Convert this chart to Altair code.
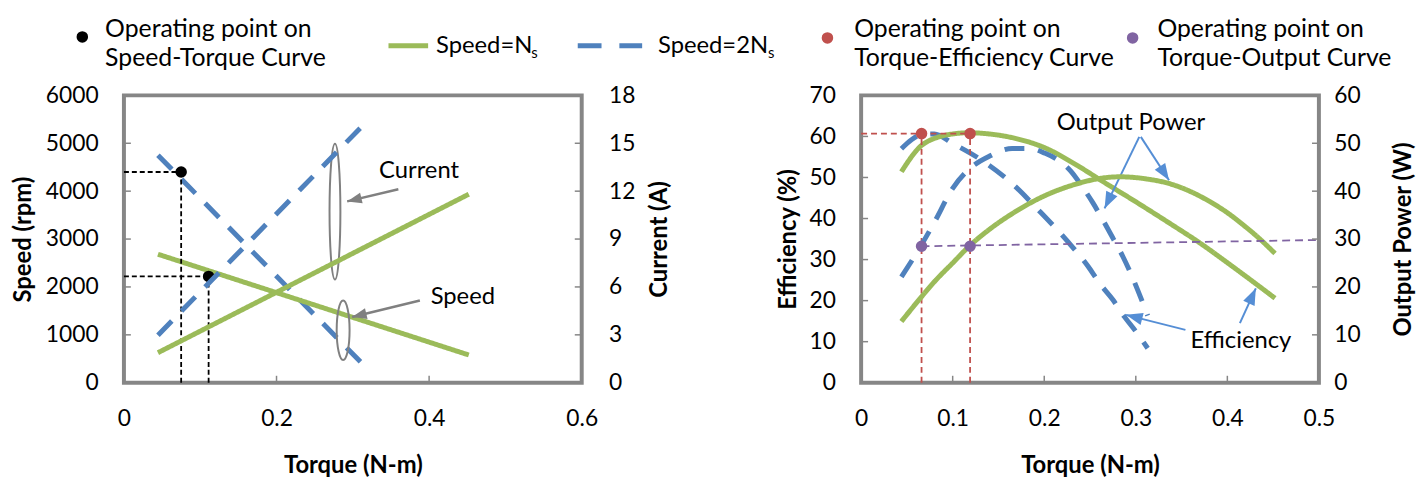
import math
import altair as alt
import pandas as pd

# ---------------- data ----------------
# Left panel: speed / current characteristics (straight lines)
line_torque_ns = [0.0446, 0.452]
speed_ns = [2683, 579]
current_ns = [1.88, 11.81]
line_torque_2ns = [0.0446, 0.314]
speed_2ns = [4752, 372]
current_2ns = [2.98, 16.16]

op_speed_torque = [0.075, 0.111]
op_speed_value = [4400, 2220]

# Right panel: efficiency and output power
eff_ns_torque = [0.044, 0.064, 0.085, 0.100, 0.118, 0.140, 0.165, 0.201, 0.237, 0.262, 0.302, 0.338, 0.367, 0.410, 0.452]
eff_ns = [51.4, 57.4, 59.9, 60.6, 60.9, 60.6, 59.7, 57.2, 52.8, 49.3, 43.8, 38.7, 34.5, 27.6, 20.6]
eff_2ns_torque = [0.044, 0.055, 0.067, 0.080, 0.100, 0.129, 0.165, 0.194, 0.226, 0.248, 0.2605, 0.275, 0.2875, 0.300, 0.313]
eff_2ns = [57.0, 59.2, 60.5, 60.6, 58.3, 54.6, 48.5, 42.0, 34.3, 28.3, 24.2, 20.2, 16.1, 12.5, 8.4]
pow_ns_torque = [0.044, 0.064, 0.082, 0.100, 0.118, 0.140, 0.165, 0.200, 0.237, 0.262, 0.283, 0.310, 0.338, 0.360, 0.381, 0.400, 0.417, 0.435, 0.452]
pow_ns = [12.8, 17.5, 21.5, 25.0, 28.5, 32.0, 35.3, 39.0, 41.6, 42.7, 43.0, 42.6, 41.5, 39.9, 37.8, 35.5, 33.0, 30.1, 27.0]
pow_2ns_torque = [0.044, 0.065, 0.080, 0.100, 0.118, 0.140, 0.165, 0.185, 0.201, 0.215, 0.229, 0.2406, 0.253, 0.264, 0.275, 0.286, 0.295, 0.302, 0.313]
pow_2ns = [22.1, 28.5, 33.5, 40.6, 44.6, 47.3, 48.9, 48.9, 47.9, 46.5, 44.2, 41.2, 37.6, 34.0, 30.2, 26.3, 22.6, 19.4, 14.0]

op_eff_torque = [0.066, 0.119]
op_eff_value = [60.7, 60.7]
op_out_torque = [0.066, 0.119]
op_out_value = [28.5, 28.5]
out_ref_torque = [0.066, 0.5]
out_ref_value = [28.5, 29.8]

# axis tick values
speed_ticks = [0, 1000, 2000, 3000, 4000, 5000, 6000]
current_ticks = [0, 3, 6, 9, 12, 15, 18]
torque_ticks_left = [0, 0.2, 0.4, 0.6]
eff_ticks = [0, 10, 20, 30, 40, 50, 60, 70]
power_ticks = [0, 10, 20, 30, 40, 50, 60]
torque_ticks_right = [0, 0.1, 0.2, 0.3, 0.4, 0.5]

SERIES = ["Speed=Ns", "Speed=2Ns"]

# ---------------- style ----------------
W, H = 462, 290
FONT = "Lato"
GREEN = "#9BBB59"
BLUE = "#4F81BD"
RED = "#C0504D"
PURPLE = "#8064A2"
FRAME = "#868686"
GREY = "#808080"
ARROW_BLUE = "#558ED5"
HEAD = "M0,0L-0.45,1.2L0.45,1.2Z"

TL, SP, CU = [0, 0.6], [0, 6000], [0, 18]
TR, EF, PW = [0, 0.5], [0, 70], [0, 60]


def scale(dom):
    return alt.Scale(domain=dom, nice=False, zero=False)


def axis(**kw):
    base = dict(domain=False, ticks=False, tickSize=0, grid=False,
                labelFont=FONT, labelFontSize=23, labelColor="black",
                labelOverlap=False, labelFlush=False,
                titleFont=FONT, titleFontSize=24, titleFontWeight="bold",
                titleColor="black", titleBaseline="middle")
    base.update(kw)
    return alt.Axis(**base)


class Panel:
    def __init__(self, xdom, ydom, xaxis, yaxis):
        self.xdom, self.ydom, self.xaxis, self.yaxis = xdom, ydom, xaxis, yaxis

    def X(self, field):
        return alt.X(field, type="quantitative", scale=scale(self.xdom), axis=self.xaxis)

    def Y(self, field):
        return alt.Y(field, type="quantitative", scale=scale(self.ydom), axis=self.yaxis)

    def DX(self, v):
        return alt.X(datum=v, type="quantitative", scale=scale(self.xdom), axis=self.xaxis)

    def DY(self, v):
        return alt.Y(datum=v, type="quantitative", scale=scale(self.ydom), axis=self.yaxis)


def long_df(pairs):
    rows = []
    for name, xs, ys in pairs:
        for a, b in zip(xs, ys):
            rows.append({"torque": a, "value": b, "series": name})
    return pd.DataFrame(rows)


def one():
    return alt.Chart(alt.Data(values=[{}]))


def curves(p, df, interp="linear"):
    return alt.Chart(df).mark_line(strokeWidth=5, interpolate=interp).encode(
        x=p.X("torque"),
        y=p.Y("value"),
        color=alt.Color("series:N", scale=alt.Scale(domain=SERIES, range=[GREEN, BLUE]), legend=None),
        strokeDash=alt.StrokeDash("series:N", scale=alt.Scale(domain=SERIES, range=[[1, 0], [20, 14]]), legend=None),
        order=alt.Order("torque:Q"),
    )


def guides(p, rows, color, dash):
    df = pd.DataFrame(rows, columns=["x1", "x2", "y1", "y2"])
    return alt.Chart(df).mark_rule(color=color, strokeWidth=1.8, strokeDash=dash).encode(
        x=p.X("x1"), x2="x2:Q", y=p.Y("y1"), y2="y2:Q")


def points(p, ts, vs, color):
    df = pd.DataFrame({"t": ts, "v": vs})
    return alt.Chart(df).mark_point(filled=True, shape="circle", size=135, color=color, opacity=1).encode(
        x=p.X("t"), y=p.Y("v"))


def ticks_y(p, vals, side):
    df = pd.DataFrame({"v": vals[1:-1]})
    xa, xb = (0, 7) if side == "left" else (W - 7, W)
    return alt.Chart(df).mark_rule(color=FRAME, strokeWidth=1.5).encode(
        y=p.Y("v"), x=alt.value(xa), x2=alt.value(xb))


def ticks_x(p, vals):
    df = pd.DataFrame({"v": vals[1:-1]})
    return alt.Chart(df).mark_rule(color=FRAME, strokeWidth=1.5).encode(
        x=p.X("v"), y=alt.value(H - 7), y2=alt.value(H))


def note(p, txt, t, v, size=24):
    return one().mark_text(text=txt, font=FONT, fontSize=size, color="black", align="center",
                           baseline="middle").encode(x=p.DX(t), y=p.DY(v))


def arrow(p, t1, v1, t2, v2, color, width, head):
    px = (t2 - t1) / (p.xdom[1] - p.xdom[0]) * W
    py = -(v2 - v1) / (p.ydom[1] - p.ydom[0]) * H
    ang = math.degrees(math.atan2(px, -py)) % 360
    shaft = one().mark_rule(color=color, strokeWidth=width).encode(
        x=p.DX(t1), y=p.DY(v1), x2=alt.X2(datum=t2), y2=alt.Y2(datum=v2))
    tip = one().mark_point(shape=HEAD, filled=True, size=head, angle=ang, color=color, opacity=1).encode(
        x=p.DX(t2), y=p.DY(v2))
    return [shaft, tip]


def ellipse(p, t, v, h_px, ratio):
    shape = f"M0,-1A{ratio},1,0,1,1,0,1A{ratio},1,0,1,1,0,-1Z"
    return one().mark_point(shape=shape, size=h_px * h_px, filled=False, stroke=GREY,
                            strokeWidth=2, opacity=1).encode(x=p.DX(t), y=p.DY(v))


def vtext(x, y, txt, size=25):
    return one().mark_text(text=txt, font=FONT, fontSize=size, color="black", align="left",
                           baseline="middle").encode(x=alt.value(x), y=alt.value(y))


def vdot(x, y, color):
    return one().mark_point(filled=True, shape="circle", size=135, color=color, opacity=1).encode(
        x=alt.value(x), y=alt.value(y))


def vline(x1, x2, y, color, dash=None):
    kw = dict(color=color, strokeWidth=5)
    if dash:
        kw["strokeDash"] = dash
    return one().mark_rule(**kw).encode(x=alt.value(x1), x2=alt.value(x2), y=alt.value(y))


# ---------------- left panel ----------------
ax_torque_l = axis(title="Torque (N-m)", orient="bottom", values=torque_ticks_left, format=".1~f",
                   labelPadding=25, titleX=W / 2, titleY=84)
ax_speed = axis(title="Speed (rpm)", orient="left", values=speed_ticks, format="d",
                labelPadding=26, titleX=-101, titleY=H / 2, titleAngle=270)
ax_current = axis(title="Current (A)", orient="right", values=current_ticks, format="d",
                  labelPadding=27, titleX=79, titleY=H / 2, titleAngle=270)

P_speed = Panel(TL, SP, ax_torque_l, ax_speed)
P_curr = Panel(TL, CU, ax_torque_l, ax_current)

df_speed = long_df([("Speed=2Ns", line_torque_2ns, speed_2ns), ("Speed=Ns", line_torque_ns, speed_ns)])
df_current = long_df([("Speed=2Ns", line_torque_2ns, current_2ns), ("Speed=Ns", line_torque_ns, current_ns)])

black_guides = []
for t, v in zip(op_speed_torque, op_speed_value):
    black_guides.append((TL[0], t, v, v))
    black_guides.append((t, t, SP[0], v))

legend = [
    vdot(-42, -59, "black"),
    vtext(-19, -67, "Operating point on"),
    vtext(-19, -38, "Speed-Torque Curve"),
    vline(267, 307, -50, GREEN),
    vtext(315, -50, "Speed=N", 24),
    vtext(411, -43, "s", 15),
    vline(458, 523, -50, BLUE, [24, 18]),
    vtext(539, -50, "Speed=2N", 24),
    vtext(650, -43, "s", 15),
    vdot(710, -58, RED),
    vtext(737, -67, "Operating point on"),
    vtext(737, -38, "Torque-Efficiency Curve"),
    vdot(1018, -58, PURPLE),
    vtext(1043, -67, "Operating point on"),
    vtext(1043, -38, "Torque-Output Curve"),
]

left_speed = alt.layer(
    curves(P_speed, df_speed),
    guides(P_speed, black_guides, "black", [5, 3]),
    points(P_speed, op_speed_torque, op_speed_value, "black"),
    ticks_y(P_speed, speed_ticks, "left"),
    ticks_x(P_speed, torque_ticks_left),
    ellipse(P_speed, 0.2766, 3573, 137, 0.08),
    ellipse(P_speed, 0.2873, 1097, 60, 0.217),
    *arrow(P_speed, 0.3597, 4041, 0.2926, 3786, GREY, 2.5, 600),
    *arrow(P_speed, 0.3879, 1717, 0.2991, 1372, GREY, 2.5, 600),
    note(P_speed, "Current", 0.3868, 4428),
    note(P_speed, "Speed", 0.4442, 1786),
    *legend,
)
left_current = alt.layer(
    curves(P_curr, df_current),
    ticks_y(P_curr, current_ticks, "right"),
)
left = alt.layer(left_speed, left_current).resolve_scale(y="independent").properties(width=W, height=H)

# ---------------- right panel ----------------
ax_torque_r = axis(title="Torque (N-m)", orient="bottom", values=torque_ticks_right, format=".1~f",
                   labelPadding=25, titleX=W / 2, titleY=84)
ax_eff = axis(title="Efficiency (%)", orient="left", values=eff_ticks, format="d",
              labelPadding=26, titleX=-73, titleY=H / 2, titleAngle=270)
ax_pow = axis(title="Output Power (W)", orient="right", values=power_ticks, format="d",
              labelPadding=15, titleX=85, titleY=H / 2, titleAngle=270)

P_eff = Panel(TR, EF, ax_torque_r, ax_eff)
P_pow = Panel(TR, PW, ax_torque_r, ax_pow)

df_eff = long_df([("Speed=2Ns", eff_2ns_torque, eff_2ns), ("Speed=Ns", eff_ns_torque, eff_ns)])
df_pow = long_df([("Speed=2Ns", pow_2ns_torque, pow_2ns), ("Speed=Ns", pow_ns_torque, pow_ns)])

red_guides = [(TR[0], max(op_eff_torque), op_eff_value[0], op_eff_value[0])]
for t, v in zip(op_eff_torque, op_eff_value):
    red_guides.append((t, t, EF[0], v))
purple_guides = [(out_ref_torque[0], out_ref_torque[1], out_ref_value[0], out_ref_value[1])]

right_eff = alt.layer(
    curves(P_eff, df_eff, "monotone"),
    guides(P_eff, red_guides, RED, [6, 4]),
    points(P_eff, op_eff_torque, op_eff_value, RED),
    ticks_y(P_eff, eff_ticks, "left"),
    ticks_x(P_eff, torque_ticks_right),
    note(P_eff, "Output Power", 0.2947, 63.25),
    *arrow(P_eff, 0.3038, 59.9, 0.2659, 42.46, ARROW_BLUE, 2, 780),
    *arrow(P_eff, 0.3055, 59.9, 0.3363, 49.34, ARROW_BLUE, 2, 780),
    note(P_eff, "Efficiency", 0.4148, 10.2),
    *arrow(P_eff, 0.3542, 12.88, 0.2893, 16.53, ARROW_BLUE, 2, 780),
    *arrow(P_eff, 0.4137, 14.5, 0.4311, 23.0, ARROW_BLUE, 2, 780),
)
right_pow = alt.layer(
    curves(P_pow, df_pow, "monotone"),
    guides(P_pow, purple_guides, PURPLE, [8, 5]),
    points(P_pow, op_out_torque, op_out_value, PURPLE),
    ticks_y(P_pow, power_ticks, "right"),
)
right = alt.layer(right_eff, right_pow).resolve_scale(y="independent").properties(width=W, height=H)

chart = (
    alt.hconcat(left, right, spacing=282, bounds="flush")
    .properties(padding={"left": 2, "top": 5, "right": 0, "bottom": 0})
    .configure_view(stroke=FRAME, strokeWidth=4)
)

chart.save("out.html", embed_options={"renderer": "svg", "actions": False})
